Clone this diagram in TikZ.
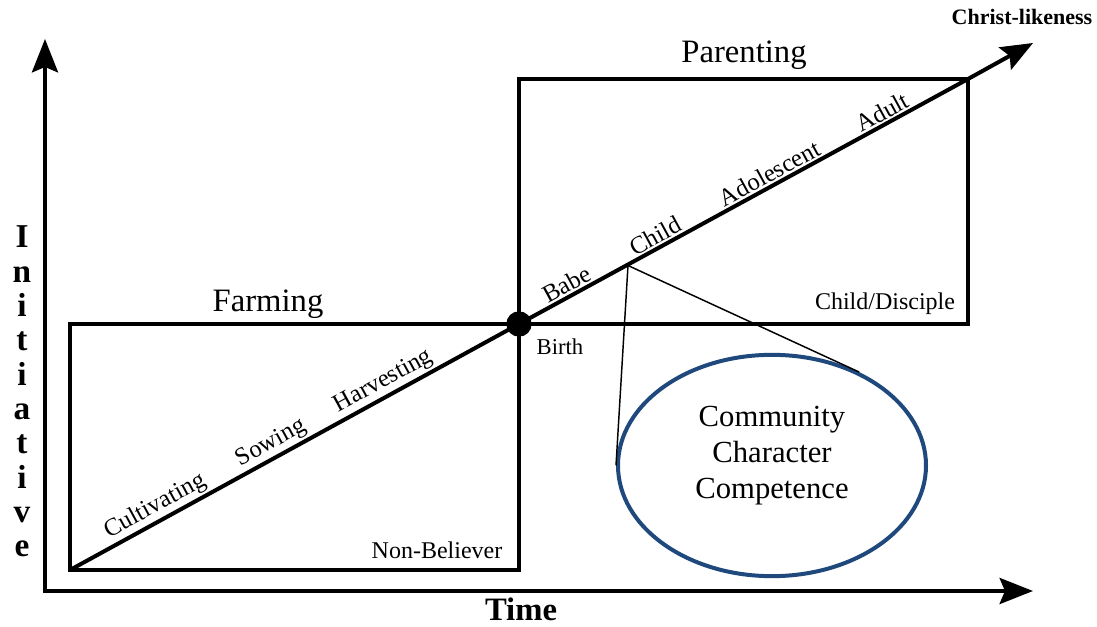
\documentclass[tikz,border=0pt]{standalone}
\usepackage{fontspec}
\setmainfont{Liberation Serif}
\usetikzlibrary{arrows.meta,shapes.geometric}
\definecolor{ellblue}{RGB}{31,73,125}
\begin{document}
\begin{tikzpicture}[x=0.75pt,y=-0.75pt,
  axisline/.style={line width=3pt, line join=miter,
    {Stealth[length=25pt,width=19.5pt,inset=4pt]}-{Stealth[length=25pt,width=19.5pt,inset=4pt]}},
  stagebox/.style={line width=2.5pt},
  pathline/.style={line width=3pt, -{Stealth[length=24pt,width=19pt,inset=4pt]}},
  thinline/.style={line width=1.1pt},
  diaglab/.style={sloped, above, inner sep=2.5pt, font=\fontsize{18.5}{22}\selectfont},
  boxlab/.style={anchor=base, inner sep=0pt, font=\fontsize{18}{22}\selectfont},
  titlelab/.style={anchor=base, inner sep=0pt, font=\fontsize{24.5}{29}\selectfont},
  axislab/.style={anchor=base, inner sep=0pt, font=\fontsize{25}{30}\selectfont\bfseries},
]
\useasboundingbox (0,0) rectangle (1097,627);

% axes
\coordinate (ytip) at (45,39);
\coordinate (origin) at (45,591);
\coordinate (xtip) at (1033,591);
\draw[axisline] (ytip) -- (origin) -- (xtip);

% key points
\coordinate (fA) at (70,570);
\coordinate (birth) at (519,324);
\coordinate (pC) at (968,79);
\coordinate (tip) at (1033,43);
\coordinate (childpt) at (628,265.5);

% stage boxes
\draw[stagebox] (70,324) rectangle (519,570);
\draw[stagebox] (519,79) rectangle (968,324);

% growth line
\draw[pathline] (fA) -- (birth) -- (pC) -- (tip);
\node[circle, fill=black, minimum size=19pt, inner sep=0pt] (birthdot) at (birth) {};

% labels on the growth line
\path (fA) -- node[diaglab, pos=0.206] (lcult) {Cultivating}
               node[diaglab, pos=0.464] (lsow) {Sowing}
               node[diaglab, pos=0.714] (lharv) {Harvesting} (birth);
\path (birth) -- node[diaglab, pos=0.119] (lbabe) {Babe}
                 node[diaglab, pos=0.317] (lchild) {Child}
                 node[diaglab, pos=0.571] (ladol) {Adolescent}
                 node[diaglab, pos=0.822] (ladult) {Adult} (pC);

% titles and box labels
\node[titlelab] (farming) at (268,312) {Farming};
\node[titlelab] (parenting) at (744,63) {Parenting};
\node[anchor=base, inner sep=0pt, font=\fontsize{16.5}{20}\selectfont\bfseries] (christ) at (1022,25) {Christ-likeness};
\node[boxlab] (nonbel) at (437,558) {Non-Believer};
\node[boxlab] (childdisc) at (885,310) {Child/Disciple};
\node[anchor=base, inner sep=0pt, font=\fontsize{17}{20}\selectfont] (birthlab) at (560,355) {Birth};
\node[axislab, font=\fontsize{24.5}{29}\selectfont\bfseries] (timelab) at (521,620) {Time};

% vertical axis label
\foreach \l [count=\k from 0] in {I,n,i,t,i,a,t,i,v,e}
  \node[axislab] (ini\k) at (22,248+34.33*\k) {\l};

% ellipse with connectors
\node[ellipse, draw=ellblue, line width=3pt, minimum width=231pt, minimum height=166pt, inner sep=0pt] (ell) at (772,465.5) {};
\node[align=center, inner sep=0pt, font=\fontsize{23}{27}\selectfont] (cct) at (772,455.5) {Community\\Character\\Competence};
\draw[thinline] (childpt) -- (ell.west);
\draw[thinline] (childpt) -- (ell.47);
\end{tikzpicture}
\end{document}
